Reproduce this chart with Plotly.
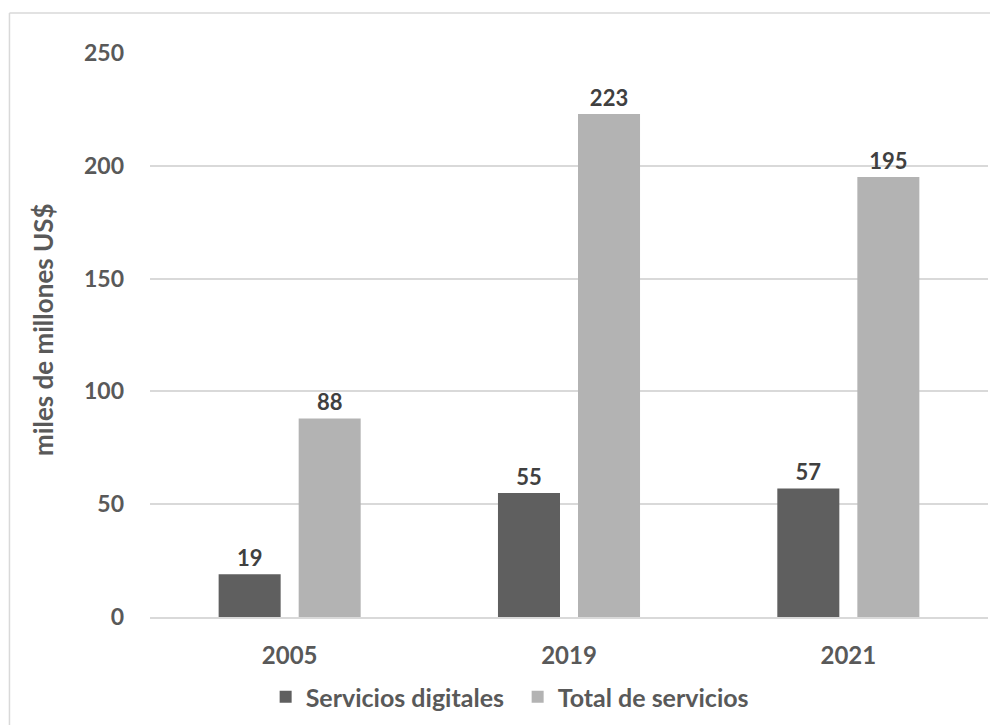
import plotly.graph_objects as go

years = ["2005", "2019", "2021"]
digitales = [19, 55, 57]
total = [88, 223, 195]
series_names = ["Servicios digitales", "Total de servicios"]
y_ticks = [0, 50, 100, 150, 200, 250]
y_title = "miles de millones US$"

FONT = "Lato"
TXT = "#595959"
LBL = "#404040"

fig = go.Figure()
fig.add_trace(go.Bar(
    x=years, y=digitales, name=series_names[0],
    marker=dict(color="#5f5f5f", line=dict(width=0)),
    text=[str(v) for v in digitales], textposition="outside",
    textfont=dict(family=FONT, size=22, color=LBL, weight="bold"),
    cliponaxis=False,
))
fig.add_trace(go.Bar(
    x=years, y=total, name=series_names[1],
    marker=dict(color="#b3b3b3", line=dict(width=0)),
    text=[str(v) for v in total], textposition="outside",
    textfont=dict(family=FONT, size=22, color=LBL, weight="bold"),
    cliponaxis=False,
))

fig.update_layout(
    width=998, height=725,
    margin=dict(l=142, r=18, t=45, b=116, autoexpand=False),
    paper_bgcolor="white", plot_bgcolor="white",
    barmode="group", bargap=0.427, bargroupgap=0.225,
    font=dict(family=FONT, size=24, color=TXT),
    showlegend=True,
    legend=dict(orientation="h", x=0.138, xanchor="left", y=-0.142, yanchor="middle",
                font=dict(family=FONT, size=25, color=TXT, weight="bold"),
                itemwidth=30, entrywidth=207, entrywidthmode="pixels",
                traceorder="normal", bgcolor="rgba(0,0,0,0)"),
    xaxis=dict(showgrid=False, showline=True, linecolor="#d9d9d9", linewidth=1.5,
               ticks="", automargin=False,
               tickfont=dict(family=FONT, size=24, color=TXT, weight="bold"),
               ticklabelstandoff=16),
    yaxis=dict(range=[0, 250], tickvals=y_ticks, showgrid=True, gridcolor="#d9d9d9",
               gridwidth=1.5, zeroline=False, showline=False, ticks="", automargin=False,
               tickfont=dict(family=FONT, size=23, color=TXT, weight="bold"),
               ticklabelstandoff=25),
    annotations=[
        dict(text=y_title, xref="paper", yref="paper", x=-0.127, y=0.51,
             xanchor="center", yanchor="middle", textangle=-90, showarrow=False,
             font=dict(family=FONT, size=26, color=TXT, weight="bold")),
    ],
    shapes=[
        dict(type="line", xref="paper", yref="paper", x0=-0.1677, x1=1.03, y0=1.0709, y1=1.0709,
             line=dict(color="#d9d9d9", width=1.5)),
        dict(type="line", xref="paper", yref="paper", x0=-0.1677, x1=-0.1677, y0=1.0709, y1=-0.25,
             line=dict(color="#d9d9d9", width=1.5)),
    ],
)

fig.write_html("out.html")
